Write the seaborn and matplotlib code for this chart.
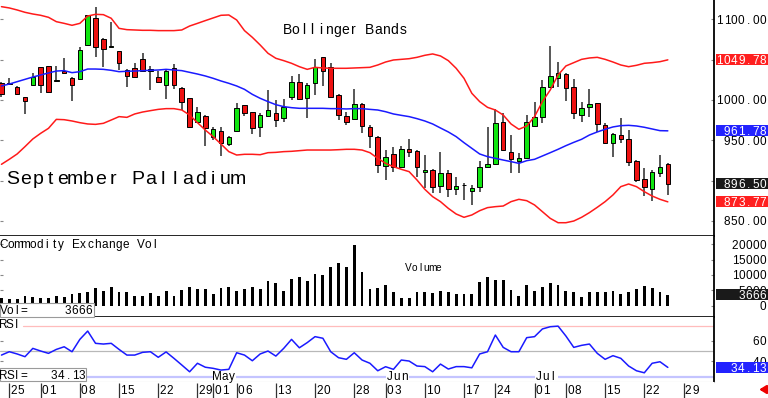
import numpy as np
import matplotlib
matplotlib.use("Agg")
import matplotlib.pyplot as plt
import seaborn as sns
from matplotlib.patches import Rectangle

sns.set_style("white")
plt.rcParams['font.family'] = ['Liberation Sans', 'DejaVu Sans']

# ---------------- data ----------------
slots = list(range(-1, 85))

opens = [1021.5, 1020.7, 1016.6, 1003.3, 1018.2, 1040.5, 1041.8, 1024.0, 1036.4, 1026.9,
         1026.5, 1067.8, 1101.7, 1075.6, 1065.7, 1060.4, 1036.8, 1040.1, 1051.3, 1036.0,
         1028.6, 1018.6, 1039.3, 1015.3, 1002.1, 973.2, 980.2, 954.6, 962.0, 945.5,
         961.6, 993.4, 985.2, 966.2, 980.2, 983.5, 978.1, 1003.3, 1021.9, 1002.1,
         1020.7, 1052.9, 1040.5, 1006.2, 979.8, 976.1, 994.6, 966.2, 954.6, 918.6,
         933.1, 916.6, 938.9, 936.8, 910.8, 913.3, 893.4, 909.1, 890.1, 895.1,
         887.6, 892.6, 916.6, 920.7, 973.2, 936.0, 924.4, 927.7, 967.8, 978.5,
         1016.6, 1026.9, 1032.3, 1015.7, 981.4, 991.8, 995.9, 969.0, 947.1, 956.6,
         951.3, 924.8, 902.1, 889.7, 909.9, 920.3]
highs = [1022.8, 1027.3, 1017.4, 1004.2, 1033.1, 1041.4, 1042.2, 1042.2, 1051.7, 1028.1,
         1065.3, 1105.4, 1114.9, 1076.5, 1096.7, 1060.8, 1038.1, 1046.3, 1058.7, 1042.2,
         1036.4, 1038.5, 1044.7, 1015.7, 1002.5, 990.9, 981.0, 966.9, 966.9, 955.4,
         995.9, 994.2, 985.6, 984.3, 1012.4, 1000.0, 1000.9, 1029.8, 1032.3, 1020.7,
         1050.4, 1053.7, 1046.3, 1007.5, 985.6, 1013.2, 995.9, 969.0, 955.4, 938.1,
         942.2, 943.0, 951.3, 938.1, 931.9, 914.1, 936.0, 913.3, 905.0, 897.6,
         894.7, 924.4, 967.0, 988.5, 983.5, 956.6, 933.9, 981.4, 998.0, 1024.8,
         1067.4, 1047.5, 1033.1, 1025.6, 998.0, 1013.2, 996.7, 971.1, 959.5, 977.3,
         962.8, 925.7, 915.3, 913.3, 931.9, 921.5]
lows = [1004.2, 1018.6, 1006.7, 982.3, 1017.8, 1009.1, 1010.0, 1022.3, 1032.3, 998.4,
        1026.1, 1067.4, 1053.7, 1041.4, 1065.3, 1037.2, 1016.6, 1028.1, 1035.2, 1012.4,
        1021.9, 1001.7, 1013.3, 987.6, 966.6, 971.9, 943.0, 950.4, 930.6, 943.0,
        960.8, 980.2, 957.5, 954.6, 979.4, 967.0, 972.3, 1000.0, 1000.0, 977.3,
        1006.2, 1017.4, 1003.3, 975.2, 969.0, 975.2, 958.7, 940.1, 909.1, 900.9,
        911.2, 915.3, 929.8, 905.0, 890.5, 884.3, 885.1, 880.2, 882.3, 876.1,
        869.9, 886.4, 915.3, 919.4, 937.2, 909.1, 909.1, 926.9, 966.2, 971.9,
        1015.7, 1015.7, 999.2, 976.1, 973.2, 979.4, 960.8, 945.5, 929.0, 947.1,
        918.2, 898.8, 881.0, 875.2, 905.0, 882.3]
closes = [1007.1, 1019.9, 1007.1, 998.8, 1028.1, 1018.6, 1010.4, 1024.8, 1033.5, 1018.2,
          1062.0, 1105.0, 1066.1, 1062.8, 1066.6, 1046.3, 1029.8, 1029.0, 1036.0, 1038.5,
          1022.8, 1036.4, 1018.2, 998.0, 967.0, 984.7, 964.9, 963.7, 947.1, 954.6,
          989.7, 984.3, 964.9, 981.1, 987.6, 975.2, 991.8, 1021.9, 1000.9, 1018.6,
          1040.5, 1036.4, 1004.2, 981.4, 973.2, 994.6, 967.8, 955.8, 919.4, 929.8,
          917.4, 939.3, 936.0, 916.6, 913.3, 892.6, 909.1, 889.3, 893.4, 894.3,
          890.5, 916.6, 920.3, 971.1, 938.1, 926.5, 927.7, 973.2, 978.5, 1015.7,
          1029.8, 1033.9, 1014.5, 983.5, 990.5, 994.6, 970.3, 946.3, 957.5, 951.3,
          923.6, 900.9, 891.8, 911.2, 916.6, 896.5]

upper_band = [1115.7, 1114.1, 1111.6, 1108.7, 1106.6, 1105.0, 1102.5, 1097.1, 1095.0, 1092.6,
              1095.0, 1104.1, 1106.2, 1105.8, 1101.3, 1088.8, 1087.2, 1086.8, 1086.4, 1086.4,
              1086.0, 1086.0, 1086.0, 1086.8, 1091.7, 1095.0, 1098.4, 1101.7, 1105.0, 1105.4,
              1099.2, 1086.0, 1077.7, 1068.2, 1057.9, 1051.7, 1048.8, 1045.5, 1041.3, 1038.0,
              1040.5, 1039.7, 1039.3, 1039.3, 1039.3, 1039.7, 1040.1, 1040.5, 1043.4, 1047.1,
              1049.6, 1050.4, 1051.2, 1052.9, 1055.4, 1057.1, 1054.6, 1048.8, 1039.3, 1026.9,
              1008.3, 998.0, 990.9, 987.6, 981.4, 970.3, 963.7, 967.8, 979.4, 998.0,
              1012.4, 1031.0, 1042.2, 1046.3, 1050.4, 1052.1, 1052.9, 1050.4, 1047.1, 1043.4,
              1041.3, 1043.0, 1045.5, 1046.3, 1047.5, 1049.78]
middle_band = [1017.4, 1019.8, 1022.7, 1025.6, 1028.5, 1031.0, 1033.5, 1035.9, 1036.4, 1033.9,
               1035.1, 1038.4, 1038.4, 1038.0, 1036.8, 1035.1, 1035.6, 1035.9, 1036.4, 1036.8,
               1037.2, 1038.0, 1037.2, 1036.4, 1034.3, 1032.2, 1029.8, 1026.9, 1023.6, 1020.7,
               1017.4, 1013.2, 1007.0, 1002.1, 998.0, 994.2, 991.8, 990.5, 989.7, 989.7,
               989.7, 989.7, 989.3, 989.3, 988.9, 989.3, 989.3, 988.4, 987.6, 985.5,
               982.7, 981.0, 979.4, 976.9, 974.0, 970.3, 965.3, 960.4, 954.6, 947.1,
               940.1, 933.1, 929.8, 927.7, 925.6, 923.6, 921.5, 924.8, 926.5, 930.6,
               934.7, 938.9, 943.4, 947.5, 951.3, 956.6, 960.4, 963.7, 966.6, 968.2,
               968.6, 967.8, 966.2, 964.1, 962.0, 961.78]
lower_band = [920.3, 926.5, 933.1, 942.2, 951.7, 958.7, 964.9, 976.0, 975.6, 974.0,
              971.9, 970.3, 969.8, 971.1, 975.2, 979.4, 978.5, 982.7, 985.1, 986.8,
              988.4, 989.3, 989.3, 987.6, 981.4, 971.9, 962.8, 954.6, 945.5, 936.0,
              931.8, 932.7, 932.7, 932.2, 934.7, 935.1, 936.0, 936.4, 937.2, 938.0,
              938.0, 938.0, 938.0, 938.4, 938.9, 938.9, 938.0, 934.7, 927.7, 921.5,
              917.4, 914.1, 911.2, 900.9, 889.3, 880.2, 874.0, 865.7, 858.7, 854.6,
              857.5, 862.8, 866.6, 867.8, 868.6, 874.0, 876.9, 875.2, 869.9, 861.6,
              853.3, 847.9, 847.9, 850.0, 854.6, 860.4, 867.0, 874.0, 882.3, 892.6,
              895.9, 892.6, 886.4, 881.0, 876.9, 873.77]

volume = [2440, 2110, 2210, 3200, 2970, 2640, 2640, 3200, 2970, 3860,
          4290, 4620, 5940, 4850, 6270, 4620, 4400, 3300, 3200, 4070,
          3200, 4850, 3300, 5180, 6060, 5510, 5510, 3860, 5940, 6060,
          4950, 5510, 6170, 5510, 7920, 7390, 4950, 8810, 9240, 7920,
          10360, 10130, 12670, 13990, 12670, 19800, 10890, 5510, 5940, 6830,
          4620, 2440, 2440, 4400, 4620, 4290, 4850, 4620, 3860, 3760,
          3760, 7720, 9370, 8480, 8480, 5180, 3200, 6830, 4950, 6060,
          7390, 6600, 4950, 4400, 2770, 4620, 4620, 4620, 4950, 3760,
          4400, 5510, 6500, 5740, 4620, 3666]

rsi = [46.3, 49.6, 47.4, 44.7, 52.9, 50.3, 48.0, 51.9, 54.5, 49.6,
       61.8, 70.0, 57.9, 57.2, 57.9, 51.9, 46.3, 46.3, 49.0, 49.6,
       44.1, 49.4, 43.1, 36.5, 29.8, 38.2, 34.3, 33.2, 31.5, 32.2,
       48.6, 46.3, 40.7, 47.4, 50.3, 45.3, 52.9, 61.8, 53.5, 58.6,
       64.5, 62.9, 49.6, 43.7, 42.1, 48.6, 41.4, 38.2, 30.8, 34.8,
       32.2, 41.4, 40.4, 35.5, 34.9, 29.8, 37.4, 32.5, 34.9, 34.9,
       33.7, 47.4, 49.6, 66.1, 53.9, 49.6, 49.6, 63.5, 64.5, 72.1,
       74.3, 74.9, 65.1, 53.9, 55.9, 57.2, 48.0, 42.1, 45.7, 43.1,
       35.5, 30.8, 28.8, 38.2, 39.7, 34.13]
rsi_levels = [75, 50, 25]

week_slots = [0, 4, 9, 14, 19, 24, 26, 29, 34, 39, 44, 48, 53, 58, 62, 67, 71, 76, 81, 86]
week_labels = ['25', '01', '08', '15', '22', '29', '01', '06', '13', '20', '28',
               '03', '10', '17', '24', '01', '08', '15', '22', '29']
month_slots = [26, 48, 67]
month_labels = ['May', 'Jun', 'Jul']

price_ticks = [850, 900, 950, 1000, 1050, 1100]
price_tick_labels = [850, 950, 1000, 1100]      # 900 / 1050 are hidden behind value boxes
vol_ticks = [0, 5000, 10000, 15000, 20000]
rsi_ticks = [40, 60]

title_text = "Bollinger Bands"
name_text = "September Palladium"

# ---------------- layout ----------------
W, H = 768, 398
fig = plt.figure(figsize=(W / 100, H / 100), dpi=100)
fig.patch.set_facecolor('white')


def fx(px):
    return px / W


def fy(py):
    return 1 - py / H


RIGHT = 714
ax_p = fig.add_axes([0, fy(235.7), fx(RIGHT), 235.7 / H])
ax_v = fig.add_axes([0, fy(316.7), fx(RIGHT), (316.7 - 235.7) / H])
ax_r = fig.add_axes([0, fy(381.7), fx(RIGHT), (381.7 - 316.7) / H])
ax_d = fig.add_axes([0, 0, fx(RIGHT), fy(381.7)])

XLIM = (-1.186, 89.89)
for a in (ax_p, ax_v, ax_r, ax_d):
    a.set_xlim(*XLIM)
    a.set_facecolor('white')
    a.set_xticks([])
    for s in a.spines.values():
        s.set_visible(False)

ax_p.set_ylim(831.8, 1123.96)
ax_v.set_ylim(-3550, 22800)
ax_r.set_ylim(20.0, 84.2)
ax_d.set_ylim(0, 1)

for a in (ax_p, ax_v, ax_r):
    a.spines['right'].set_visible(True)
    a.spines['right'].set_color('black')
    a.spines['right'].set_linewidth(1.3)
for a in (ax_p, ax_v):
    a.spines['bottom'].set_visible(True)
    a.spines['bottom'].set_color('black')
    a.spines['bottom'].set_linewidth(1.2)
ax_r.spines['bottom'].set_visible(True)
ax_r.spines['bottom'].set_color('#c8c8c8')
ax_r.spines['bottom'].set_linewidth(0.8)

ax_p.set_yticks(price_ticks)
ax_v.set_yticks(vol_ticks)
ax_r.set_yticks(rsi_ticks)
for a in (ax_p, ax_v, ax_r):
    a.tick_params(axis='y', left=True, right=True, direction='in', length=2.5,
                  width=0.8, color='#888888', labelleft=False, labelright=False)
    a.set_ylabel('')
ax_d.set_yticks([])

# ---------------- candles ----------------
o = np.array(opens)
c = np.array(closes)
hi = np.array(highs)
lo = np.array(lows)
x = np.array(slots)
body_col = np.where(c >= o, '#10e610', '#ee1111')
ax_p.vlines(x, lo, hi, color='#2a2a2a', linewidth=1.1, zorder=2)
ax_p.bar(x, np.maximum(np.abs(c - o), 0.7), bottom=np.minimum(o, c), width=0.58,
         color=body_col, edgecolor='black', linewidth=0.7, zorder=3)

sns.lineplot(x=slots, y=upper_band, ax=ax_p, color='#ff1a1a', linewidth=1.1,
             estimator=None, sort=False, zorder=4)
sns.lineplot(x=slots, y=lower_band, ax=ax_p, color='#ff1a1a', linewidth=1.1,
             estimator=None, sort=False, zorder=4)
sns.lineplot(x=slots, y=middle_band, ax=ax_p, color='#1a1aff', linewidth=1.1,
             estimator=None, sort=False, zorder=4)

# ---------------- volume ----------------
ax_v.bar(x, volume, width=0.36, color='black', linewidth=0, zorder=3)

# ---------------- RSI ----------------
ax_r.axhline(rsi_levels[0], xmin=23 / RIGHT, color='#ffbcbc', linewidth=0.9, zorder=1)
ax_r.axhline(rsi_levels[1], color='#b8b8b8', linewidth=0.9, zorder=1)
ax_r.axhline(rsi_levels[2], color='#c4c4ff', linewidth=1.6, zorder=1)
sns.lineplot(x=slots, y=rsi, ax=ax_r, color='#1a1aff', linewidth=1.1,
             estimator=None, sort=False, zorder=3)

for a in (ax_p, ax_v, ax_r):
    a.set_xlim(*XLIM)
    a.set_xlabel('')
    a.set_xticks([])

# ---------------- date strip ----------------
ax_d.set_xticks(week_slots)
ax_d.tick_params(axis='x', bottom=True, top=False, direction='in', length=11,
                 width=0.9, color='#333333', labelbottom=False)


# ---------------- text helpers ----------------
def img_xy(ax, xv, yv):
    dx, dy = ax.transData.transform((xv, yv))
    return dx, H - dy


def mono(x_left, y_center, s, pitch, size, color='black', z=10):
    em = size * 100 / 72
    base = y_center + 0.358 * em
    for i, ch in enumerate(s):
        if ch != ' ':
            fig.text(fx(x_left + (i + 0.5) * pitch), fy(base), ch, ha='center',
                     va='baseline', fontsize=size, color=color, zorder=z)


def mono_r(x_right, y_center, s, pitch, size, color='black', z=10):
    mono(x_right - len(s) * pitch, y_center, s, pitch, size, color=color, z=z)


def rect(x0, y0, x1, y1, fc, ec='none', lw=0.0, z=8):
    fig.add_artist(Rectangle((fx(x0), fy(y1)), fx(x1) - fx(x0), fy(y0) - fy(y1),
                             transform=fig.transFigure, facecolor=fc,
                             edgecolor=ec, linewidth=lw, zorder=z))


def value_box(ax, v, txt, fc):
    _, py = img_xy(ax, 0, v)
    rect(715.5, py - 5.6, 767.5, py + 5.6, fc, z=8)
    mono_r(766.5, py, txt, 7.2, 8.5, color='white', z=9)


RX = 766.5
for v in price_tick_labels:
    _, py = img_xy(ax_p, 0, v)
    mono_r(RX, py, f"{v:.2f}", 7.2, 8.5, z=6)
for v in vol_ticks:
    _, py = img_xy(ax_v, 0, v)
    mono_r(RX, py, f"{v:d}", 7.0, 8.5, z=6)
for v in rsi_ticks:
    _, py = img_xy(ax_r, 0, v)
    mono_r(RX, py, f"{v:d}", 7.0, 8.5, z=6)

value_box(ax_p, upper_band[-1], f"{upper_band[-1]:.2f}", '#ff1f1f')
value_box(ax_p, middle_band[-1], f"{middle_band[-1]:.2f}", '#2222ff')
value_box(ax_p, closes[-1], f"{closes[-1]:.2f}", '#1a1a1a')
value_box(ax_p, lower_band[-1], f"{lower_band[-1]:.2f}", '#ff1f1f')
value_box(ax_v, volume[-1], f"{volume[-1]:d}", '#1a1a1a')
value_box(ax_r, rsi[-1], f"{rsi[-1]:.2f}", '#2222ff')

# titles
mono(283, 29, title_text, 8.27, 10)
mono(6.5, 177, name_text, 12.5, 14)

# volume panel texts
mono(0, 244, "Commodity Exchange Vol", 7.2, 8.5)
mono(405, 267.5, "Volume", 6.1, 7.3)
rect(0, 303.3, 93.5, 316.5, 'white', ec='#9a9a9a', lw=0.8, z=7)
mono(0, 309.5, "Vol=", 6.8, 8.5)
mono_r(92.5, 309.5, f"{volume[-1]:d}", 7.0, 8.5)

# RSI panel texts
mono(0, 324, "RSI", 6.5, 8.5)
rect(0, 368.3, 86, 381.3, 'white', ec='#9a9a9a', lw=0.8, z=7)
mono(0, 375, "RSI=", 6.8, 8.5)
mono_r(85.5, 375, f"{rsi[-1]:.2f}", 7.0, 8.5)

for s_, lab in zip(month_slots, month_labels):
    px, _ = img_xy(ax_r, s_, 0)
    rect(px, 371, px + 23, 381, 'white', z=7)
    mono(px + 0.5, 376, lab, 7.2, 8.5)

# date labels
for s_, lab in zip(week_slots, week_labels):
    px, _ = img_xy(ax_d, s_, 0)
    mono(px + 0.8, 389.5, lab, 7.3, 8.5)

# red arrow bottom right
ax_d.annotate('', xy=(fx(756.5), fy(389.5)), xycoords='figure fraction',
              xytext=(fx(767.5), fy(389.5)), textcoords='figure fraction',
              arrowprops=dict(arrowstyle='-|>,head_width=0.22,head_length=0.35',
                              color='#ee0000', lw=2.2), annotation_clip=False)

fig.savefig('out.png', dpi=100, facecolor='white')
